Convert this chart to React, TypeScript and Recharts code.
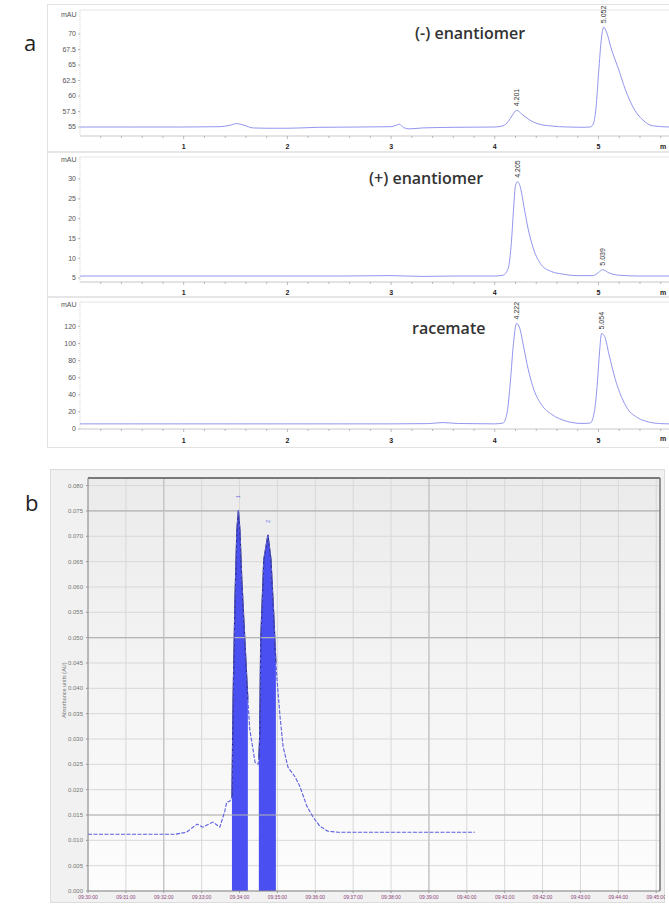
import React from 'react';
import {
  LineChart, Line, XAxis, YAxis, ReferenceDot, ComposedChart, Area,
  CartesianGrid, ReferenceLine,
} from 'recharts';

// ---------- Panel a : HPLC chromatograms (time in min) ----------
const A_MINOR_TICKS = [0.2, 0.4, 0.6, 0.8, 1, 1.2, 1.4, 1.6, 1.8, 2, 2.2, 2.4, 2.6, 2.8, 3, 3.2, 3.4, 3.6, 3.8, 4, 4.2, 4.4, 4.6, 4.8, 5, 5.2, 5.4, 5.6];

const NEG_T = [0, 0.5, 1.0, 1.35, 1.45, 1.51, 1.58, 1.67, 1.8, 2.0, 2.12, 2.3, 2.7, 3.0, 3.05, 3.08, 3.12, 3.18, 3.3, 3.6, 4.0, 4.08, 4.13, 4.17, 4.21, 4.26, 4.33, 4.42, 4.55, 4.7, 4.85, 4.92, 4.95, 4.98, 5.0, 5.03, 5.05, 5.08, 5.12, 5.19, 5.26, 5.35, 5.43, 5.52, 5.68];
const NEG_V = [55.0, 55.0, 55.0, 55.05, 55.3, 55.55, 55.3, 54.85, 54.8, 54.8, 54.85, 54.95, 55.0, 55.05, 55.3, 55.45, 54.9, 54.7, 54.85, 54.95, 55.0, 55.2, 55.9, 56.9, 57.7, 57.1, 56.2, 55.5, 55.15, 55.0, 54.95, 55.0, 55.5, 58.8, 63.5, 69.5, 71.1, 70.2, 67.8, 64.5, 61.0, 57.7, 56.1, 55.2, 55.0];
const NEG_Y_TICKS = [55, 57.5, 60, 62.5, 65, 67.5, 70];
const NEG_PEAKS = [{ t: 4.21, label: '4.201' }, { t: 5.05, label: '5.052' }];

const POS_T = [0, 0.5, 1.0, 1.5, 2.0, 2.5, 3.0, 3.3, 3.6, 4.0, 4.08, 4.13, 4.16, 4.18, 4.2, 4.22, 4.25, 4.28, 4.32, 4.37, 4.45, 4.55, 4.65, 4.8, 4.95, 5.0, 5.04, 5.1, 5.2, 5.4, 5.68];
const POS_V = [5.5, 5.5, 5.5, 5.5, 5.5, 5.5, 5.6, 5.4, 5.5, 5.5, 5.7, 7.5, 14, 22, 28.4, 29.3, 27.6, 23.2, 17.6, 12.6, 8.3, 6.6, 6.0, 5.6, 5.6, 6.4, 7.1, 6.3, 5.7, 5.5, 5.5];
const POS_Y_TICKS = [5, 10, 15, 20, 25, 30];
const POS_PEAKS = [{ t: 4.22, label: '4.205' }, { t: 5.04, label: '5.039' }];

const RAC_T = [0, 0.5, 1.0, 1.5, 2.0, 2.5, 3.0, 3.35, 3.5, 3.65, 4.0, 4.08, 4.12, 4.15, 4.18, 4.21, 4.24, 4.28, 4.32, 4.38, 4.45, 4.55, 4.65, 4.84, 4.92, 4.96, 4.99, 5.01, 5.03, 5.06, 5.1, 5.16, 5.22, 5.28, 5.38, 5.48, 5.6, 5.68];
const RAC_V = [6, 6, 6, 6, 6, 6, 6, 6.3, 7.5, 6.4, 6, 7, 20, 55, 100, 123.5, 118, 95, 71, 45, 28.5, 17, 10.7, 6.5, 7, 20, 55, 90, 111.7, 108, 88, 59, 38, 23.8, 13, 8.3, 6.3, 6];
const RAC_Y_TICKS = [0, 20, 40, 60, 80, 100, 120];
const RAC_PEAKS = [{ t: 4.21, label: '4.222' }, { t: 5.03, label: '5.054' }];

// ---------- Panel b : second chromatogram ----------
const B_X_TICKS = [0, 1, 2, 3, 4, 5, 6, 7, 8, 9, 10, 11, 12, 13, 14, 15];
const B_TIME_LABELS = ['09:30:00', '09:31:00', '09:32:00', '09:33:00', '09:34:00', '09:35:00', '09:36:00', '09:37:00', '09:38:00', '09:39:00', '09:40:00', '09:41:00', '09:42:00', '09:43:00', '09:44:00', '09:45:00'];
const B_Y_TICKS = [0, 0.005, 0.01, 0.015, 0.02, 0.025, 0.03, 0.035, 0.04, 0.045, 0.05, 0.055, 0.06, 0.065, 0.07, 0.075, 0.08];
const B_T = [0, 2.3, 2.6, 2.88, 3.03, 3.30, 3.48, 3.61, 3.66, 3.74, 3.80, 3.83, 3.88, 3.93, 3.97, 4.01, 4.06, 4.14, 4.22, 4.27, 4.41, 4.49, 4.51, 4.53, 4.56, 4.64, 4.75, 4.83, 4.91, 4.96, 4.99, 5.07, 5.15, 5.28, 5.46, 5.59, 5.78, 5.94, 6.12, 6.33, 6.60, 10.21];
const B_V = [0.0112, 0.0112, 0.0116, 0.0132, 0.0126, 0.0136, 0.0126, 0.0157, 0.0175, 0.0177, 0.0185, 0.0378, 0.0575, 0.0713, 0.0752, 0.0713, 0.0614, 0.0496, 0.0378, 0.0319, 0.0254, 0.0250, 0.0262, 0.0300, 0.0496, 0.0654, 0.0703, 0.0654, 0.0535, 0.0450, 0.0417, 0.0344, 0.0285, 0.0244, 0.0226, 0.0207, 0.0167, 0.0146, 0.0128, 0.0118, 0.0116, 0.0116];
const B_FILL_RANGES = [[3.80, 4.22], [4.51, 4.96]];
const B_PEAKS = [{ t: 3.97, label: '1' }, { t: 4.75, label: '2' }];
const B_DARK_Y = [0.015, 0.05, 0.075];
const B_DARK_X = [2, 9];

const zip = (t: number[], v: number[]) => t.map((tt, i) => ({ t: tt, v: v[i] }));
const valueAt = (t: number[], v: number[], x: number) => {
  let best = 0;
  t.forEach((tt, i) => { if (Math.abs(tt - x) < Math.abs(t[best] - x)) best = i; });
  return v[best];
};

const FONT = '"Liberation Sans", Arial, sans-serif';
const TRACE = '#9296ee';

const PeakTag = (props: any) => {
  const vb = props.viewBox || {};
  const cx = (vb.cx ?? ((vb.x ?? 0) + (vb.width ?? 0) / 2));
  const cy = (vb.cy ?? ((vb.y ?? 0) + (vb.height ?? 0) / 2)) - (props.gap ?? 3);
  return (
    <text x={cx} y={cy} dy="0.35em" transform={`rotate(-90 ${cx} ${cy})`} textAnchor="start"
      fontSize={props.size ?? 7} fill={props.color ?? '#333'} fontFamily={FONT}>
      {props.text}
    </text>
  );
};

const ATick = (p: any) => {
  const { x, y, payload, labelDy } = p;
  const v = payload.value;
  const major = Math.abs(v - Math.round(v)) < 1e-6;
  return (
    <g>
      <line x1={x} x2={x} y1={y} y2={y + (major ? 3 : 2)} stroke="#aaa" strokeWidth={0.8} />
      {major && (
        <text x={x} y={y + labelDy} textAnchor="middle" fontSize={7} fill="#222" fontWeight="bold" fontFamily={FONT}>
          {Math.round(v)}
        </text>
      )}
    </g>
  );
};

type SubProps = {
  top: number; height: number; xAxisH: number; domain: [number, number];
  t: number[]; v: number[]; yTicks: number[]; peaks: { t: number; label: string }[]; labelDy: number;
};

const SubChart = ({ top, height, xAxisH, domain, t, v, yTicks, peaks, labelDy }: SubProps) => (
  <div style={{ position: 'absolute', left: 48, top, width: 621, height }}>
    <LineChart width={621} height={height} data={zip(t, v)} margin={{ top: 5, right: 0, bottom: 0, left: 0 }}>
      <XAxis type="number" dataKey="t" domain={[0, 5.68]} ticks={A_MINOR_TICKS} interval={0}
        height={xAxisH} tickSize={0} tickMargin={0} tickLine={false}
        axisLine={{ stroke: '#c8c8c8' }} tick={<ATick labelDy={labelDy} />} allowDataOverflow />
      <YAxis type="number" domain={domain} ticks={yTicks} width={32} allowDataOverflow interval={0}
        tick={{ fontSize: 7, fill: '#555', fontFamily: FONT }} tickSize={2} tickMargin={2}
        tickLine={{ stroke: '#bbb' }} axisLine={{ stroke: '#cfcfcf', strokeDasharray: '1 1' }} />
      <ReferenceLine y={domain[1]} stroke="#e4e4e4" />
      <Line type="monotone" dataKey="v" stroke={TRACE} strokeWidth={1} dot={false} isAnimationActive={false} />
      {peaks.map((pk) => (
        <ReferenceDot key={pk.label} x={pk.t} y={valueAt(t, v, pk.t)} r={0} stroke="none" fill="none"
          label={(lp: any) => <PeakTag viewBox={lp.viewBox} text={pk.label} gap={4} />} />
      ))}
    </LineChart>
  </div>
);

const Txt = ({ x, y, size, children, style }: any) => (
  <div style={{ position: 'absolute', left: x, top: y, fontSize: size, lineHeight: 1, whiteSpace: 'nowrap', fontFamily: FONT, ...style }}>
    {children}
  </div>
);

export default function App() {
  const bTrace = zip(B_T, B_V);
  const fills = B_FILL_RANGES.map(([a, b]) => bTrace.filter((d) => d.t >= a - 1e-9 && d.t <= b + 1e-9));
  return (
    <div style={{ position: 'absolute', left: 0, top: 0, width: 669, height: 907, overflow: 'hidden', background: '#fff' }}>
      {/* panel a frame */}
      <div style={{ position: 'absolute', left: 47, top: 4, width: 640, height: 442, border: '1px solid #e2e2e2' }} />
      <div style={{ position: 'absolute', left: 48, top: 151, width: 640, height: 2, background: '#e6e6e6' }} />
      <div style={{ position: 'absolute', left: 48, top: 296, width: 640, height: 2, background: '#e6e6e6' }} />

      <SubChart top={5} height={147} xAxisH={16} domain={[53.55, 73.87]} t={NEG_T} v={NEG_V} yTicks={NEG_Y_TICKS} peaks={NEG_PEAKS} labelDy={13} />
      <SubChart top={152} height={145} xAxisH={15} domain={[3.99, 35.56]} t={POS_T} v={POS_V} yTicks={POS_Y_TICKS} peaks={POS_PEAKS} labelDy={13} />
      <SubChart top={297} height={148} xAxisH={16} domain={[0, 148.5]} t={RAC_T} v={RAC_V} yTicks={RAC_Y_TICKS} peaks={RAC_PEAKS} labelDy={14} />

      <Txt x={61} y={11} size={7} style={{ color: '#555' }}>mAU</Txt>
      <Txt x={61} y={156} size={7} style={{ color: '#555' }}>mAU</Txt>
      <Txt x={61} y={301} size={7} style={{ color: '#555' }}>mAU</Txt>
      <Txt x={660} y={143} size={7} style={{ color: '#222', fontWeight: 'bold' }}>m</Txt>
      <Txt x={660} y={289} size={7} style={{ color: '#222', fontWeight: 'bold' }}>m</Txt>
      <Txt x={660} y={435} size={7} style={{ color: '#222', fontWeight: 'bold' }}>m</Txt>

      <Txt x={415} y={25} size={16} style={{ color: '#333', fontFamily: '"Open Sans", sans-serif', fontWeight: 600 }}>(-) enantiomer</Txt>
      <Txt x={369} y={170} size={16} style={{ color: '#333', fontFamily: '"Open Sans", sans-serif', fontWeight: 600 }}>(+) enantiomer</Txt>
      <Txt x={412} y={320} size={16} style={{ color: '#333', fontFamily: '"Open Sans", sans-serif', fontWeight: 600 }}>racemate</Txt>

      <Txt x={24} y={31} size={22} style={{ color: '#222', fontFamily: '"Open Sans", sans-serif' }}>a</Txt>
      <Txt x={25} y={491} size={22} style={{ color: '#222', fontFamily: '"Open Sans", sans-serif' }}>b</Txt>

      {/* panel b */}
      <div style={{ position: 'absolute', left: 50, top: 469, width: 615, height: 434, background: '#f1f1f1', border: '1px solid #dcdcdc', boxSizing: 'border-box' }} />
      <div style={{ position: 'absolute', left: 50, top: 469, width: 615, height: 434 }}>
        <ComposedChart width={615} height={434} margin={{ top: 9, right: 5, bottom: 0, left: 0 }}>
          <defs>
            <linearGradient id="bbg" x1="0" y1="0" x2="0" y2="1">
              <stop offset="0" stopColor="#ebebeb" />
              <stop offset="1" stopColor="#fdfdfd" />
            </linearGradient>
          </defs>
          <CartesianGrid fill="url(#bbg)" stroke="#d8d8d8" strokeWidth={1} />
          <XAxis type="number" dataKey="t" domain={[0, 15.1]} ticks={B_X_TICKS} interval={0}
            tickFormatter={(v: number) => B_TIME_LABELS[v]} height={12} tickSize={2} tickMargin={2}
            tick={{ fontSize: 5, fill: '#8a3f78', fontFamily: FONT }} axisLine={{ stroke: '#8a8a8a' }}
            tickLine={{ stroke: '#999' }} allowDataOverflow />
          <YAxis type="number" domain={[0, 0.0815]} ticks={B_Y_TICKS} interval={0} width={38}
            tickFormatter={(v: number) => v.toFixed(3)} tick={{ fontSize: 6, fill: '#777', fontFamily: FONT }}
            tickSize={2} tickMargin={3} tickLine={{ stroke: '#999' }} axisLine={{ stroke: '#8a8a8a' }} allowDataOverflow />
          {B_DARK_Y.map((y) => <ReferenceLine key={'y' + y} y={y} stroke="#b3b3b3" strokeWidth={1.2} />)}
          {B_DARK_X.map((x) => <ReferenceLine key={'x' + x} x={x} stroke="#c2c2c2" strokeWidth={1.2} />)}
          <ReferenceLine y={0.0815} stroke="#555" strokeWidth={1.5} />
          <ReferenceLine x={15.1} stroke="#777" strokeWidth={1.5} />
          {fills.map((d, i) => (
            <Area key={i} data={d} dataKey="v" type="linear" fill="#4a4ff2" fillOpacity={1}
              stroke="#1f1f6a" strokeWidth={1.2} isAnimationActive={false} baseValue={0} />
          ))}
          <Line data={bTrace} dataKey="v" type="linear" stroke="#5a5fe0" strokeWidth={1.1}
            strokeDasharray="4 1.5" dot={false} isAnimationActive={false} />
          {B_PEAKS.map((pk) => (
            <ReferenceDot key={pk.label} x={pk.t} y={valueAt(B_T, B_V, pk.t)} r={0} stroke="none" fill="none"
              label={(lp: any) => <PeakTag viewBox={lp.viewBox} text={pk.label} gap={12} size={5} color="#5a5fe0" />} />
          ))}
        </ComposedChart>
      </div>
      <div style={{ position: 'absolute', left: 64, top: 690, transform: 'translate(-50%, -50%) rotate(-90deg)', fontSize: 5.5, color: '#777', fontFamily: FONT, whiteSpace: 'nowrap' }}>
        Absorbance units (AU)
      </div>
    </div>
  );
}
